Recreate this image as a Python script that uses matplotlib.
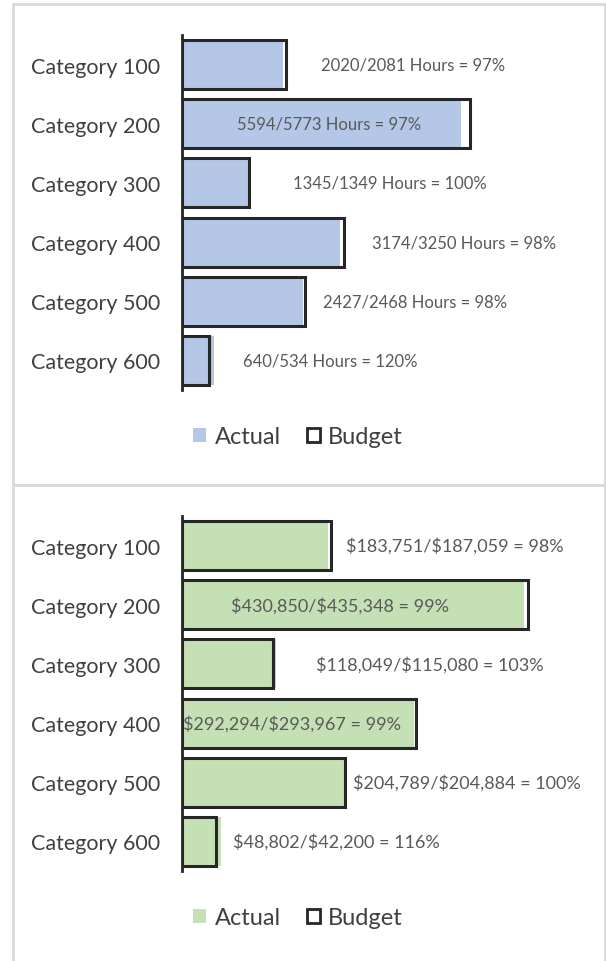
import matplotlib
matplotlib.use("Agg")
import matplotlib.pyplot as plt
from matplotlib.patches import Patch, Rectangle

plt.rcParams['font.family'] = ['Lato', 'DejaVu Sans']
plt.rcParams['text.parse_math'] = False

categories = ["Category 100", "Category 200", "Category 300",
              "Category 400", "Category 500", "Category 600"]

hours_actual = [2020, 5594, 1345, 3174, 2427, 640]
hours_budget = [2081, 5773, 1349, 3250, 2468, 534]
hours_labels = ["2020/2081 Hours = 97%", "5594/5773 Hours = 97%",
                "1345/1349 Hours = 100%", "3174/3250 Hours = 98%",
                "2427/2468 Hours = 98%", "640/534 Hours = 120%"]

cost_actual = [183751, 430850, 118049, 292294, 204789, 48802]
cost_budget = [187059, 435348, 115080, 293967, 204884, 42200]
cost_labels = ["$183,751/$187,059 = 98%", "$430,850/$435,348 = 99%",
               "$118,049/$115,080 = 103%", "$292,294/$293,967 = 99%",
               "$204,789/$204,884 = 100%", "$48,802/$42,200 = 116%"]

# label left edge, in pixels right of the axis line
hours_label_px = [139, 55, 111, 190, 141, 61]
cost_label_px = [164, 49, 134, 1, 171, 51]

W, H = 606, 962
fig = plt.figure(figsize=(W / 100, H / 100), dpi=100)

# panel frames
border = "#d9d9d9"
fig.add_artist(Rectangle((13 / W, 1 - 486 / H), (605 - 13) / W, (486 - 5) / H,
                         transform=fig.transFigure, fill=False, ec=border, lw=2))
fig.add_artist(Rectangle((13 / W, -0.01), (605 - 13) / W, (1 - 486 / H) + 0.01,
                         transform=fig.transFigure, fill=False, ec=border, lw=2))


def panel(top_px, actual, budget, labels, label_px, color, bar_px, label_fs):
    ax = fig.add_axes([182 / W, 1 - (top_px + 355) / H, (600 - 182) / W, 355 / H])
    y = range(len(categories))
    ax.barh(y, actual, height=0.83, color=color, lw=0, zorder=2)
    ax.barh(y, budget, height=0.83, fill=False, edgecolor="#262626", lw=2.2, zorder=3)
    ax.set_xlim(0, max(budget) * 418 / bar_px)
    ax.set_ylim(len(categories) - 0.5, -0.5)
    ax.set_yticks(list(y))
    ax.set_yticklabels(categories, fontsize=15.5, color="#404040")
    ax.tick_params(axis="y", length=0, pad=16)
    ax.set_xticks([])
    for s in ["top", "right", "bottom"]:
        ax.spines[s].set_visible(False)
    ax.spines["left"].set_color("#262626")
    ax.spines["left"].set_linewidth(2)
    ax.spines["left"].set_zorder(4)
    for i, txt in enumerate(labels):
        ax.annotate(txt, xy=(0, i), xytext=(label_px[i] * 0.72, 0),
                    textcoords="offset points", va="center", ha="left",
                    fontsize=label_fs, color="#595959", zorder=5)
    ax.patch.set_alpha(0)
    handles = [Patch(facecolor=color, edgecolor="none", label="Actual"),
               Patch(facecolor="white", edgecolor="#262626", lw=2, label="Budget")]
    fig.legend(handles=handles, loc="center", ncol=2, frameon=False,
               bbox_to_anchor=(298 / W, 1 - (top_px + 402) / H),
               fontsize=17, handlelength=0.55, handleheight=0.55,
               handletextpad=0.35, columnspacing=1.1, labelcolor="#404040")
    return ax


panel(36, hours_actual, hours_budget, hours_labels, hours_label_px, "#b4c7e7", 288, 12)
panel(517, cost_actual, cost_budget, cost_labels, cost_label_px, "#c5e0b4", 346, 13)

fig.savefig("out.png", dpi=100)
